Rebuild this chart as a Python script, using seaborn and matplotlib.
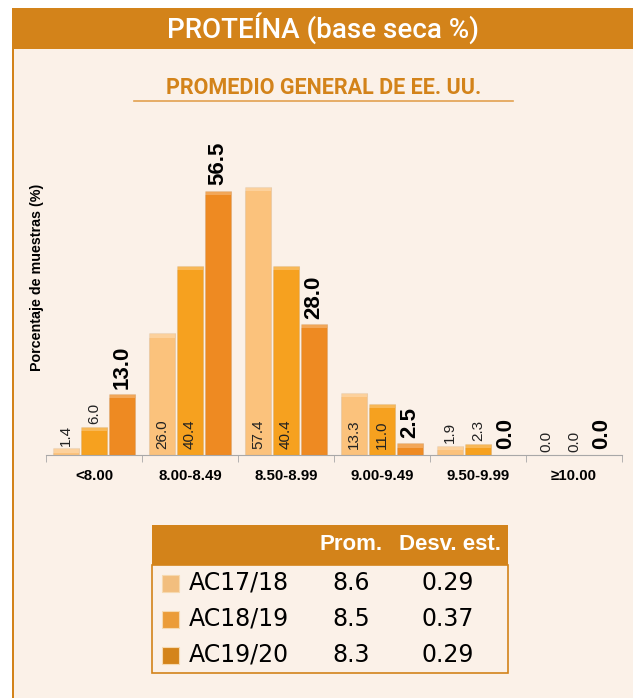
import numpy as np
import pandas as pd
import matplotlib
matplotlib.use("Agg")
import matplotlib.pyplot as plt
import seaborn as sns
from matplotlib import font_manager
from matplotlib.patches import Rectangle
from matplotlib.lines import Line2D

# datos
rangos = ["<8.00", "8.00-8.49", "8.50-8.99", "9.00-9.49", "9.50-9.99", "≥10.00"]
ac17_18 = [1.4, 26.0, 57.4, 13.3, 1.9, 0.0]
ac18_19 = [6.0, 40.4, 40.4, 11.0, 2.3, 0.0]
ac19_20 = [13.0, 56.5, 28.0, 2.5, 0.0, 0.0]
campanas = ["AC17/18", "AC18/19", "AC19/20"]
promedio = ["8.6", "8.5", "8.3"]
desv_est = ["0.29", "0.37", "0.29"]

colores_barras = ["#FBC27C", "#F6A11F", "#EE8A22"]
colores_leyenda = ["#F2BE7E", "#EB9C38", "#D4841A"]
naranja = "#D3831A"
crema = "#FBF1E8"

df = pd.DataFrame({
    "rango": rangos * 3,
    "valor": ac17_18 + ac18_19 + ac19_20,
    "campana": [c for c in campanas for _ in rangos],
})

nombres = {f.name for f in font_manager.fontManager.ttflist}
estrecha = "Liberation Sans Narrow" if "Liberation Sans Narrow" in nombres else "Roboto"
arial = ["Liberation Sans", "DejaVu Sans"]

W, H = 633, 698
fig = plt.figure(figsize=(W / 100, H / 100), dpi=100)
fig.patch.set_facecolor("white")

def fx(x):
    return x / W

def fy(y):
    return 1 - y / H

# fondo, cabecera y borde izquierdo
fig.patches.append(Rectangle((fx(12), 0), 1 - fx(12), fy(7.5), transform=fig.transFigure,
                             facecolor=crema, edgecolor="none", zorder=-2))
fig.patches.append(Rectangle((fx(12), fy(49)), 1 - fx(12), fy(7.5) - fy(49), transform=fig.transFigure,
                             facecolor=naranja, edgecolor="none", zorder=1))
fig.patches.append(Rectangle((fx(12), 0), 2 / W, fy(49), transform=fig.transFigure,
                             facecolor=naranja, edgecolor="none", zorder=1))

fig.text(fx(323), fy(28), "PROTEÍNA (base seca %)", color="white", fontsize=20,
         fontweight="medium", family=[estrecha, "DejaVu Sans"], ha="center", va="center")
fig.text(fx(324), fy(88), "PROMEDIO GENERAL DE EE. UU.", color=naranja, fontsize=15.5,
         fontweight="bold", family=[estrecha, "DejaVu Sans"], ha="center", va="center")
fig.lines.append(Line2D([fx(134), fx(513)], [fy(100.5), fy(100.5)], transform=fig.transFigure,
                        color="#E2A150", lw=1.2))

# grafico de barras
ax = fig.add_axes([fx(46), fy(455), 576 / W, 280.4 / H])
ax.set_facecolor("none")
sns.barplot(data=df, x="rango", y="valor", hue="campana", palette=colores_barras,
            saturation=1, width=0.87, gap=0.06, legend=False, ax=ax,
            edgecolor="#0000000F", linewidth=0.8)
ax.set_ylim(0, 60)
ax.set_xlim(-0.5, 5.5)

for i, cont in enumerate(ax.containers):
    for p in cont.patches:
        v = p.get_height()
        xc = p.get_x() + p.get_width() / 2
        if v > 1:
            ax.add_patch(Rectangle((p.get_x(), v - 0.9), p.get_width(), 0.9,
                                   facecolor="white", alpha=0.25, edgecolor="none"))
        if i < 2:
            y = 1.2 if v >= 10 else v + 0.6
            ax.text(xc, y, f"{v:.1f}", rotation=90, ha="center", va="bottom",
                    fontsize=11, family=arial, color="#222222")
        else:
            ax.text(xc, v + 1.2, f"{v:.1f}", rotation=90, ha="center", va="bottom",
                    fontsize=16, fontweight="bold", family=arial, color="black")

for s in ["top", "right", "left"]:
    ax.spines[s].set_visible(False)
ax.spines["bottom"].set_color("#A8A8A8")
ax.set_yticks([])
ax.set_xlabel("")
ax.set_ylabel("")
ax.set_xticks(range(len(rangos)))
ax.set_xticklabels(rangos, fontsize=10.8, fontweight="bold", family=arial)
ax.set_xticks(np.arange(-0.5, 6, 1), minor=True)
ax.tick_params(axis="x", which="major", length=0, pad=10)
ax.tick_params(axis="x", which="minor", length=5, color="#A8A8A8")

fig.text(fx(37), fy(277), "Porcentaje de muestras (%)", rotation=90, ha="center", va="center",
         fontsize=10.3, fontweight="bold", family=arial)

# tabla de promedios
fig.patches.append(Rectangle((fx(152), fy(565)), 356 / W, 40 / H, transform=fig.transFigure,
                             facecolor=naranja, edgecolor="none", zorder=2))
fig.patches.append(Rectangle((fx(152), fy(673)), 356 / W, 108 / H, transform=fig.transFigure,
                             facecolor="none", edgecolor=naranja, lw=1.2, zorder=2))
fig.text(fx(351), fy(545), "Prom.", color="white", fontsize=16, fontweight="bold",
         family=arial, ha="center", va="center")
fig.text(fx(450), fy(545), "Desv. est.", color="white", fontsize=16, fontweight="bold",
         family=arial, ha="center", va="center")

filas_y = [583, 619, 655]
for yy, camp, col, pr, de in zip(filas_y, campanas, colores_leyenda, promedio, desv_est):
    fig.patches.append(Rectangle((fx(162), fy(yy + 8.5)), 17 / W, 17 / H, transform=fig.transFigure,
                                 facecolor=col, edgecolor="#F6D9B0", lw=0.8, zorder=3))
    fig.text(fx(189), fy(yy), camp, fontsize=17, family="DejaVu Sans", ha="left", va="center")
    fig.text(fx(351), fy(yy), pr, fontsize=17, family="DejaVu Sans", ha="center", va="center")
    fig.text(fx(448), fy(yy), de, fontsize=17, family="DejaVu Sans", ha="center", va="center")

fig.savefig("out.png", dpi=100, facecolor=fig.get_facecolor())
